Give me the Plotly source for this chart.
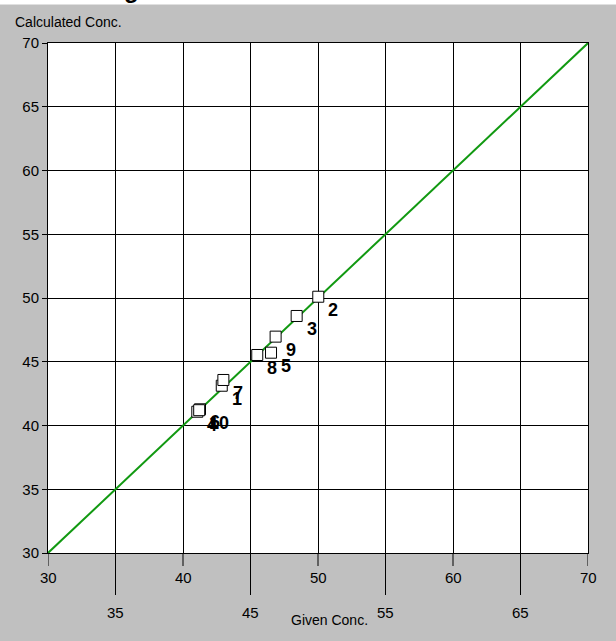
import plotly.graph_objects as go

# ---- data ----
given_conc = [42.87, 50.02, 48.42, 41.06, 46.52, 41.26, 42.99, 45.50, 46.86, 41.20]
calc_conc  = [43.12, 50.10, 48.59, 41.08, 45.71, 41.27, 43.57, 45.53, 46.97, 41.20]
point_labels = ["1", "2", "3", "4", "5", "6", "7", "8", "9", "10"]
line_x = [30, 70]
line_y = [30, 70]
x_ticks = [30, 35, 40, 45, 50, 55, 60, 65, 70]
y_ticks = [30, 35, 40, 45, 50, 55, 60, 65, 70]

W, H = 616, 641
ML, MR, MT, MB = 48, 28, 43, 88
PH = H - MT - MB  # plot height px

def py(px_from_top):
    # convert pixel y (from top of figure) into paper coordinate
    return 1 - (px_from_top - MT) / PH

fig = go.Figure()

fig.add_trace(go.Scatter(x=line_x, y=line_y, mode="lines",
                         line=dict(color="#119911", width=2), hoverinfo="skip"))
fig.add_trace(go.Scatter(x=given_conc, y=calc_conc, mode="markers",
                         marker=dict(symbol="square", size=11, color="white",
                                     line=dict(color="black", width=1))))

annotations = []
for xv, yv, lab in zip(given_conc, calc_conc, point_labels):
    annotations.append(dict(x=xv, y=yv, xref="x", yref="y", text=lab, showarrow=False,
                            xanchor="left", yanchor="middle", xshift=8, yshift=-13,
                            font=dict(family="Liberation Sans Narrow, Liberation Sans, Arial", size=18,
                                      color="black", weight="bold")))

shapes = []
tick_font = dict(family="Liberation Sans, Arial", size=15, color="black")
for i, t in enumerate(x_ticks):
    low = (i % 2 == 1)
    end_px = 595 if low else 566
    shapes.append(dict(type="line", xref="x", yref="paper", x0=t, x1=t,
                       y0=0, y1=py(end_px), line=dict(color="black", width=1)))
    annotations.append(dict(x=t, y=py(612 if low else 577), xref="x", yref="paper",
                            text=str(t), showarrow=False, xanchor="center", yanchor="middle",
                            font=tick_font))

# axis titles
annotations.append(dict(x=-ML / (W - ML - MR) + 13 / (W - ML - MR), y=py(22), xref="paper", yref="paper",
                        text="Calculated Conc.", showarrow=False, xanchor="left", yanchor="middle",
                        font=dict(family="Liberation Sans, Arial", size=14, color="black")))
annotations.append(dict(x=(329 - ML) / (W - ML - MR), y=py(620), xref="paper", yref="paper",
                        text="Given Conc.", showarrow=False, xanchor="center", yanchor="middle",
                        font=dict(family="Liberation Sans, Arial", size=14, color="black")))

# white strip at the very top with a clipped heading glyph
shapes.append(dict(type="rect", xref="paper", yref="paper",
                   x0=-ML / (W - ML - MR), x1=1 + MR / (W - ML - MR),
                   y0=py(4.5), y1=py(-2), fillcolor="white", line=dict(width=0), layer="below"))
annotations.append(dict(x=(131 - ML) / (W - ML - MR), y=py(5), xref="paper", yref="paper",
                        text="g", showarrow=False, xanchor="center", yanchor="bottom",
                        font=dict(family="Liberation Sans, Arial", size=24, color="black",
                                  weight="bold")))

fig.update_layout(
    width=W, height=H,
    margin=dict(l=ML, r=MR, t=MT, b=MB, pad=0),
    paper_bgcolor="#c0c0c0", plot_bgcolor="white",
    showlegend=False,
    shapes=shapes, annotations=annotations,
    xaxis=dict(range=[30, 70], tickvals=x_ticks, showticklabels=False, ticks="",
               showgrid=True, gridcolor="black", gridwidth=1,
               showline=True, linecolor="black", linewidth=1, mirror=True, zeroline=False),
    yaxis=dict(range=[30, 70], tickvals=y_ticks, ticktext=[str(v) for v in y_ticks],
               ticks="outside", ticklen=5, tickcolor="black",
               tickfont=tick_font, showgrid=True, gridcolor="black", gridwidth=1,
               showline=True, linecolor="black", linewidth=1, mirror=True, zeroline=False),
)

fig.write_html("out.html")
